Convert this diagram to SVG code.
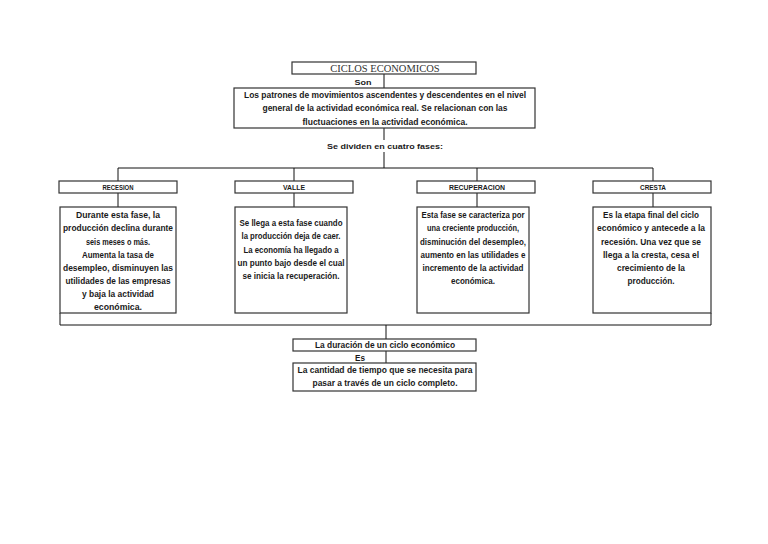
<svg xmlns="http://www.w3.org/2000/svg" width="768" height="544" viewBox="0 0 768 544">
<style>
.box{fill:#fff;stroke:#333;stroke-width:1.2}
.ln{fill:none;stroke:#111;stroke-width:1}
.t{font-family:"Liberation Sans",Arial,sans-serif;font-weight:bold;fill:#1a1a1a;text-anchor:middle}
.c{font-size:8.5px}
.l{font-size:7px}
.m{font-size:9px}
.ttl{font-family:"Liberation Serif","Times New Roman",serif;font-size:10.5px;fill:#333;text-anchor:middle}
</style>
<rect width="768" height="544" fill="#fff"/>
<g id="connectors">
<line class="ln" x1="384" y1="74" x2="384" y2="88"/>
<line class="ln" x1="384" y1="128" x2="384" y2="140"/>
<line class="ln" x1="384" y1="152" x2="384" y2="168"/>
<line class="ln" x1="118" y1="168" x2="653" y2="168"/>
<line class="ln" x1="118" y1="168" x2="118" y2="181"/>
<line class="ln" x1="294" y1="168" x2="294" y2="181"/>
<line class="ln" x1="477" y1="168" x2="477" y2="181"/>
<line class="ln" x1="653" y1="168" x2="653" y2="181"/>
<line class="ln" x1="118" y1="193" x2="118" y2="207"/>
<line class="ln" x1="294" y1="193" x2="294" y2="207"/>
<line class="ln" x1="477" y1="193" x2="477" y2="207"/>
<line class="ln" x1="653" y1="193" x2="653" y2="207"/>
<polyline class="ln" stroke="#333" stroke-width="1.2" points="60,313 60,325 711,325 711,313"/>
<line class="ln" x1="386" y1="325" x2="386" y2="339"/>
<line class="ln" x1="386" y1="351" x2="386" y2="363"/>
</g>
<g id="title">
<rect class="box" x="292" y="62" width="184" height="12"/>
<text class="ttl" x="385" y="71.5">CICLOS ECONOMICOS</text>
</g>
<text class="t l" x="363" y="85" textLength="17" lengthAdjust="spacingAndGlyphs">Son</text>
<g id="definicion">
<rect class="box" x="234" y="88" width="301" height="40"/>
<text class="t m" x="385" y="97.5" textLength="282" lengthAdjust="spacingAndGlyphs">Los patrones de movimientos ascendentes y descendentes en el nivel</text>
<text class="t m" x="385" y="111" textLength="245" lengthAdjust="spacingAndGlyphs">general de la actividad económica real. Se relacionan con las</text>
<text class="t m" x="385" y="124.5" textLength="165" lengthAdjust="spacingAndGlyphs">fluctuaciones en la actividad económica.</text>
</g>
<text class="t l" x="385" y="148.5" textLength="116" lengthAdjust="spacingAndGlyphs">Se dividen en cuatro fases:</text>
<g id="recesion">
<rect class="box" x="59" y="181" width="118" height="12"/>
<text class="t l" x="118" y="189.5" textLength="31" lengthAdjust="spacingAndGlyphs">RECESION</text>
<rect class="box" x="60" y="207" width="116" height="106"/>
<text class="t c" x="118" y="218" textLength="84" lengthAdjust="spacingAndGlyphs">Durante esta fase, la</text>
<text class="t c" x="118" y="231" textLength="110" lengthAdjust="spacingAndGlyphs">producción declina durante</text>
<text class="t c" x="118" y="244.5" textLength="64" lengthAdjust="spacingAndGlyphs">seis meses o  más.</text>
<text class="t c" x="118" y="257.5" textLength="72" lengthAdjust="spacingAndGlyphs">Aumenta la tasa de</text>
<text class="t c" x="118" y="270.5" textLength="110" lengthAdjust="spacingAndGlyphs">desempleo, disminuyen las</text>
<text class="t c" x="118" y="284" textLength="105" lengthAdjust="spacingAndGlyphs">utilidades de las empresas</text>
<text class="t c" x="118" y="297" textLength="72" lengthAdjust="spacingAndGlyphs">y baja la actividad</text>
<text class="t c" x="118" y="310" textLength="48" lengthAdjust="spacingAndGlyphs">económica.</text>
</g>
<g id="valle">
<rect class="box" x="235" y="181" width="118" height="12"/>
<text class="t l" x="294" y="189.5" textLength="22" lengthAdjust="spacingAndGlyphs">VALLE</text>
<rect class="box" x="235" y="207" width="112" height="106"/>
<text class="t c" x="291" y="226" textLength="103" lengthAdjust="spacingAndGlyphs">Se llega a esta fase cuando</text>
<text class="t c" x="291" y="239" textLength="99" lengthAdjust="spacingAndGlyphs">la producción deja de caer.</text>
<text class="t c" x="291" y="252.5" textLength="95" lengthAdjust="spacingAndGlyphs">La economía ha llegado a</text>
<text class="t c" x="291" y="265.5" textLength="107" lengthAdjust="spacingAndGlyphs">un punto bajo desde el cual</text>
<text class="t c" x="291" y="278.5" textLength="97" lengthAdjust="spacingAndGlyphs">se inicia la recuperación.</text>
</g>
<g id="recuperacion">
<rect class="box" x="417" y="181" width="118" height="12"/>
<text class="t l" x="477" y="189.5" textLength="56" lengthAdjust="spacingAndGlyphs">RECUPERACION</text>
<rect class="box" x="417" y="207" width="112" height="106"/>
<text class="t c" x="473" y="218" textLength="103" lengthAdjust="spacingAndGlyphs">Esta fase se caracteriza por</text>
<text class="t c" x="473" y="231" textLength="92" lengthAdjust="spacingAndGlyphs">una creciente producción,</text>
<text class="t c" x="473" y="244.5" textLength="106" lengthAdjust="spacingAndGlyphs">disminución del desempleo,</text>
<text class="t c" x="473" y="257.5" textLength="105" lengthAdjust="spacingAndGlyphs">aumento en las utilidades e</text>
<text class="t c" x="473" y="270.5" textLength="101" lengthAdjust="spacingAndGlyphs">incremento de la actividad</text>
<text class="t c" x="473" y="284" textLength="44" lengthAdjust="spacingAndGlyphs">económica.</text>
</g>
<g id="cresta">
<rect class="box" x="593" y="181" width="118" height="12"/>
<text class="t l" x="653" y="189.5" textLength="26" lengthAdjust="spacingAndGlyphs">CRESTA</text>
<rect class="box" x="593" y="207" width="118" height="106"/>
<text class="t c" x="651" y="218" textLength="96" lengthAdjust="spacingAndGlyphs">Es la etapa final del ciclo</text>
<text class="t c" x="651" y="231" textLength="108" lengthAdjust="spacingAndGlyphs">económico y antecede a la</text>
<text class="t c" x="651" y="244.5" textLength="100" lengthAdjust="spacingAndGlyphs">recesión. Una vez que se</text>
<text class="t c" x="651" y="257.5" textLength="96" lengthAdjust="spacingAndGlyphs">llega a la cresta, cesa el</text>
<text class="t c" x="651" y="270.5" textLength="68" lengthAdjust="spacingAndGlyphs">crecimiento de la</text>
<text class="t c" x="651" y="284" textLength="47" lengthAdjust="spacingAndGlyphs">producción.</text>
</g>
<g id="duracion">
<rect class="box" x="293" y="339" width="183" height="12"/>
<text class="t c" x="385" y="348" textLength="140" lengthAdjust="spacingAndGlyphs">La duración de un ciclo económico</text>
</g>
<text class="t c" x="360" y="360.5" textLength="10" lengthAdjust="spacingAndGlyphs">Es</text>
<g id="definicion-duracion">
<rect class="box" x="293" y="363" width="183" height="28"/>
<text class="t c" x="385" y="373" textLength="175" lengthAdjust="spacingAndGlyphs">La cantidad de tiempo que se necesita para</text>
<text class="t c" x="385" y="386" textLength="145" lengthAdjust="spacingAndGlyphs">pasar a través de un ciclo completo.</text>
</g>
</svg>
